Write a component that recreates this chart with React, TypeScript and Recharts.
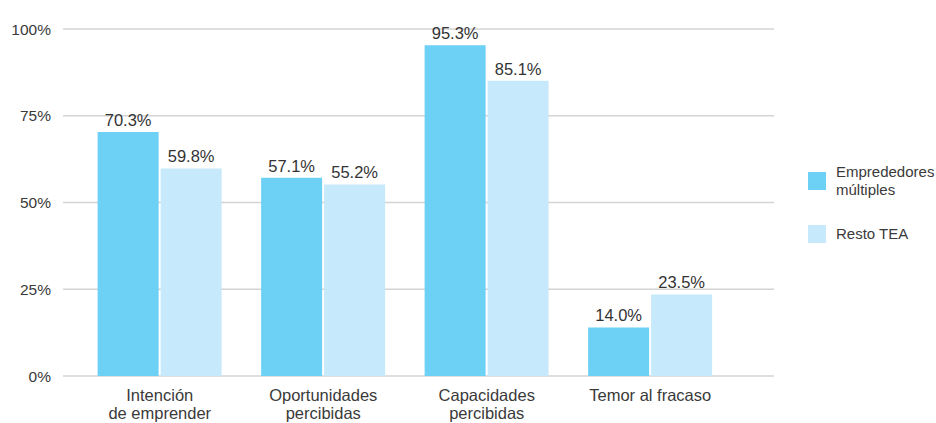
import React from 'react';
import { BarChart, Bar, XAxis, YAxis, CartesianGrid, LabelList } from 'recharts';

const categories = ['Intención\nde emprender', 'Oportunidades\npercibidas', 'Capacidades\npercibidas', 'Temor al fracaso'];
const multiples = [70.3, 57.1, 95.3, 14.0];
const restoTEA = [59.8, 55.2, 85.1, 23.5];
const yTicks = [0, 25, 50, 75, 100];

const SERIES = [
    { key: 'multiples', name: 'Emprededores\nmúltiples', color: '#6dd0f5' },
    { key: 'resto', name: 'Resto TEA', color: '#c6e9fb' },
];

const FONT = '"Liberation Sans", Arial, sans-serif';

const data = categories.map((c, i) => ({ name: c, multiples: multiples[i], resto: restoTEA[i] }));

const CategoryTick = (props: any) => {
    const { x, y, payload } = props;
    const lines = String(payload.value).split('\n');
    return (
        <text x={x} y={y} textAnchor="middle" fill="#3a3a3a" fontSize={16.5} fontFamily={FONT}>
            {lines.map((l, i) => (
                <tspan key={i} x={x} dy={i === 0 ? 17 : 18}>{l}</tspan>
            ))}
        </text>
    );
};

const Legend = () => (
    <div style={{ position: 'absolute', left: 808, top: 163, fontFamily: FONT, fontSize: 15, color: '#3a3a3a' }}>
        {SERIES.map((s, i) => (
            <div key={s.key} style={{ display: 'flex', alignItems: 'center', height: 36, marginBottom: i === 0 ? 17 : 0 }}>
                <div style={{ width: 18, height: 18, background: s.color, marginRight: 10 }} />
                <div style={{ whiteSpace: 'pre-line', lineHeight: '18px' }}>{s.name}</div>
            </div>
        ))}
    </div>
);

const App: React.FC = () => {
    return (
        <div style={{ position: 'absolute', left: 0, top: 0, width: 936, height: 423, background: '#fff' }}>
            <BarChart
                width={936}
                height={423}
                data={data}
                margin={{ top: 29, right: 162, bottom: 0, left: 0 }}
                barCategoryGap="12%"
                barGap={2}
            >
                <CartesianGrid vertical={false} stroke="#d4d4d4" strokeWidth={1.5} />
                <XAxis
                    dataKey="name"
                    axisLine={false}
                    tickLine={false}
                    interval={0}
                    height={47}
                    padding={{ left: 15, right: 42 }}
                    tick={<CategoryTick />}
                />
                <YAxis
                    width={63}
                    domain={[0, 100]}
                    ticks={yTicks}
                    axisLine={false}
                    tickLine={false}
                    tickFormatter={(v) => `${v}%`}
                    tick={{ fill: '#3a3a3a', fontSize: 15.5, fontFamily: FONT }}
                    tickMargin={6}
                />
                {SERIES.map((s) => (
                    <Bar key={s.key} dataKey={s.key} fill={s.color} isAnimationActive={false}>
                        <LabelList
                            dataKey={s.key}
                            position="top"
                            offset={6}
                            formatter={(v: any) => `${Number(v).toFixed(1)}%`}
                            style={{ fill: '#333', fontSize: 16.5, fontFamily: FONT }}
                        />
                    </Bar>
                ))}
            </BarChart>
            <Legend />
        </div>
    );
};

export default App;
